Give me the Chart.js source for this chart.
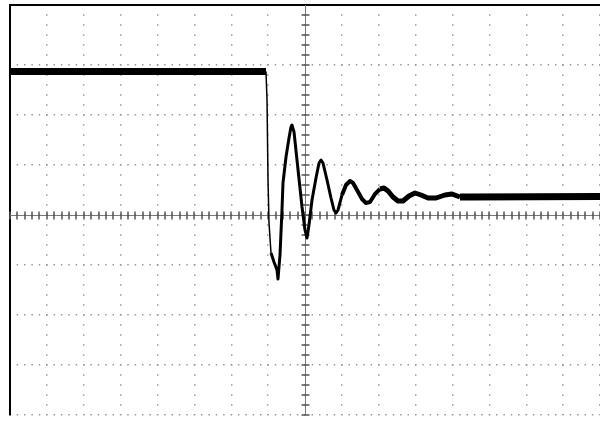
<!DOCTYPE html>
<html>
<head>
<meta charset="utf-8">
<script src="https://cdn.jsdelivr.net/npm/chart.js@4/dist/chart.umd.min.js"></script>
<style>
  html, body { margin: 0; padding: 0; background: #fff; }
  #wrap { width: 600px; height: 426px; position: relative; }
</style>
</head>
<body>
<div id="wrap"><canvas id="scope"></canvas></div>
<script>
// screen is 16 x 8 divisions, values are in divisions from centre
const xRange = [-8, 8];
const yRange = [-4, 4.2];
const minorPerDiv = 5;

// step response trace
const traceX = [-8, -1.058, -1.030, -1.003, -0.976, -0.922, -0.841, -0.759, -0.732, -0.678,
  -0.624, -0.597, -0.515, -0.434, -0.380, -0.353, -0.298, -0.217, -0.081, 0.000,
  0.054, 0.108, 0.190, 0.298, 0.380, 0.434, 0.488, 0.597, 0.705, 0.786,
  0.841, 0.895, 1.003, 1.112, 1.220, 1.302, 1.410, 1.546, 1.654, 1.763,
  1.898, 2.034, 2.142, 2.251, 2.386, 2.522, 2.658, 2.820, 2.983, 3.146,
  3.336, 3.553, 3.797, 3.986, 4.203, 4.475, 8];
const traceY = [2.87, 2.87, 2.30, 0.70, -0.16, -0.76, -0.94, -1.10, -1.28, -0.80,
  0.10, 0.64, 1.16, 1.54, 1.76, 1.80, 1.66, 1.10, 0.16, -0.30,
  -0.46, -0.20, 0.30, 0.74, 1.04, 1.10, 1.04, 0.70, 0.34, 0.10,
  0.04, 0.10, 0.40, 0.60, 0.68, 0.64, 0.50, 0.32, 0.24, 0.26,
  0.42, 0.52, 0.54, 0.48, 0.36, 0.28, 0.28, 0.38, 0.44, 0.40,
  0.34, 0.34, 0.40, 0.42, 0.36, 0.36, 0.37];

const points = traceX.map((x, i) => ({ x: x, y: traceY[i] }));

// noise makes the trace look thicker where it is slow
function traceWidth(ctx) {
  const x0 = ctx.p0.parsed.x;
  if (x0 < -1.07) return 7;
  if (x0 < -0.95) return 1.5;
  if (x0 >= 4.2) return 7;
  if (x0 >= 2.0) return 5;
  if (x0 >= 1.0) return 4;
  return 3;
}

// centre cross of the graticule with its minor tick marks
const graticule = {
  id: 'graticule',
  beforeDatasetsDraw(chart) {
    const { ctx, chartArea: a, scales: { x, y } } = chart;
    const cx = Math.round(x.getPixelForValue(0)) + 0.5;
    const cy = Math.round(y.getPixelForValue(0)) + 0.5;
    ctx.save();
    ctx.strokeStyle = '#7a7a7a';
    ctx.lineWidth = 1;
    ctx.beginPath();
    ctx.moveTo(a.left, cy); ctx.lineTo(a.right, cy);
    ctx.moveTo(cx, a.top); ctx.lineTo(cx, a.bottom);
    ctx.stroke();

    ctx.strokeStyle = '#555';
    ctx.lineWidth = 1.5;
    ctx.beginPath();
    for (let k = xRange[0] * minorPerDiv; k <= xRange[1] * minorPerDiv; k++) {
      const px = Math.round(x.getPixelForValue(k / minorPerDiv));
      ctx.moveTo(px, cy - 4); ctx.lineTo(px, cy + 4);
    }
    for (let k = yRange[0] * minorPerDiv; k <= 4 * minorPerDiv; k++) {
      const py = Math.round(y.getPixelForValue(k / minorPerDiv));
      ctx.moveTo(cx - 4, py); ctx.lineTo(cx + 4, py);
    }
    ctx.stroke();
    ctx.restore();
  }
};

new Chart(document.getElementById('scope'), {
  type: 'line',
  data: {
    datasets: [{
      data: points,
      borderColor: '#000',
      borderWidth: 3,
      pointRadius: 0,
      tension: 0,
      borderJoinStyle: 'round',
      borderCapStyle: 'butt',
      segment: { borderWidth: traceWidth }
    }]
  },
  options: {
    responsive: true,
    maintainAspectRatio: false,
    animation: false,
    layout: { padding: { top: 5, left: 10, right: 0, bottom: 11 } },
    plugins: { legend: { display: false }, tooltip: { enabled: false } },
    scales: {
      x: {
        type: 'linear',
        position: 'top',
        min: xRange[0],
        max: xRange[1],
        ticks: { display: false, stepSize: 1 },
        grid: { color: '#9a9a9a', lineWidth: 1.5, drawTicks: false },
        border: { display: true, color: '#000', width: 2, dash: [1.5, 8.5], dashOffset: 1.75 }
      },
      y: {
        type: 'linear',
        min: yRange[0],
        max: yRange[1],
        afterBuildTicks: s => { s.ticks = s.ticks.filter(t => Math.abs(t.value - Math.round(t.value)) < 1e-6); },
        ticks: { display: false, stepSize: 1 },
        grid: { color: '#9a9a9a', lineWidth: 1.5, drawTicks: false },
        border: { display: true, color: '#000', width: 2, dash: [1.5, 5.875], dashOffset: 1.75 }
      }
    }
  },
  plugins: [graticule]
});
</script>
</body>
</html>
